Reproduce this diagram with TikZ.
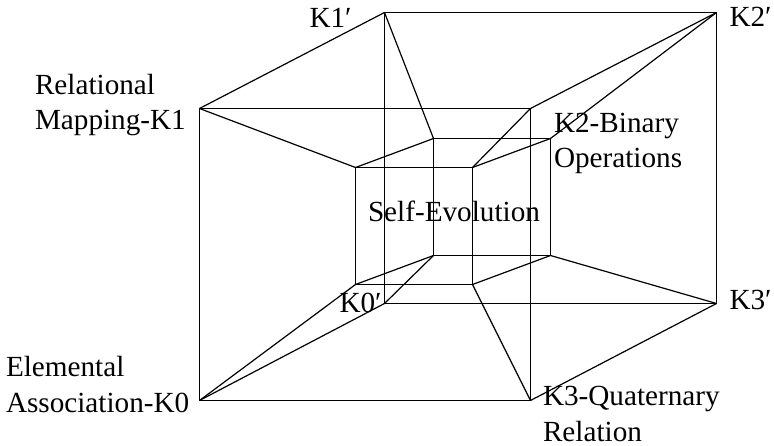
\documentclass[tikz,border=0pt]{standalone}
\usepackage{fontspec}
\setmainfont{Liberation Serif}
\tikzset{
  wire/.style={draw=black,line width=1.2pt,line join=miter},
  lab/.style={anchor=base west,inner sep=0pt,outer sep=0pt,text=black,align=left,
    font=\fontsize{29.2}{35.5}\selectfont},
}
\begin{document}
\begin{tikzpicture}[x=1pt,y=-1pt]
\useasboundingbox (0,0) rectangle (774,446);
\begin{scope}[shift={(-0.5,-0.5)}]
% outer cube, front and back
\coordinate (A0) at (200,401);
\coordinate (A1) at (200,109);
\coordinate (A2) at (531,109);
\coordinate (A3) at (531,401);
\coordinate (B0) at (385,304);
\coordinate (B1) at (385,13);
\coordinate (B2) at (717,13);
\coordinate (B3) at (717,304);
% inner cube, front and back
\coordinate (C0) at (356,285);
\coordinate (C1) at (356,168);
\coordinate (C2) at (473,168);
\coordinate (C3) at (473,285);
\coordinate (D0) at (434,256);
\coordinate (D1) at (434,139);
\coordinate (D2) at (551,139);
\coordinate (D3) at (551,256);
\end{scope}
\draw[wire] (A0)--(A1)--(A2)--(A3)--cycle;
\draw[wire] (B0)--(B1)--(B2)--(B3)--cycle;
\draw[wire] (C0)--(C1)--(C2)--(C3)--cycle;
\draw[wire] (D0)--(D1)--(D2)--(D3)--cycle;
\foreach \i in {0,1,2,3}{
  \draw[wire] (A\i)--(B\i);
  \draw[wire] (A\i)--(C\i);
  \draw[wire] (B\i)--(D\i);
  \draw[wire] (C\i)--(D\i);
}
\node[lab] (l1) at (35,95) {Relational};
\node[lab] (l1b) at (35,129.5) {Mapping-K1};
\node[lab] (l1p) at (309.5,28) {K1′};
\node[lab] (l2p) at (729.5,27) {K2′};
\node[lab] (l2) at (554,133) {K2-Binary};
\node[lab] (l2b) at (554,168) {Operations};
\node[lab] (se) at (368,222) {Self-Evolution};
\node[lab] (l0p) at (339.5,313) {K0′};
\node[lab] (l3p) at (729.5,310) {K3′};
\node[lab] (l0) at (6,377) {Elemental};
\node[lab] (l0b) at (6,412) {Association-K0};
\node[lab] (l3) at (543,405) {K3-Quaternary};
\node[lab] (l3b) at (543,441) {Relation};
\end{tikzpicture}
\end{document}
